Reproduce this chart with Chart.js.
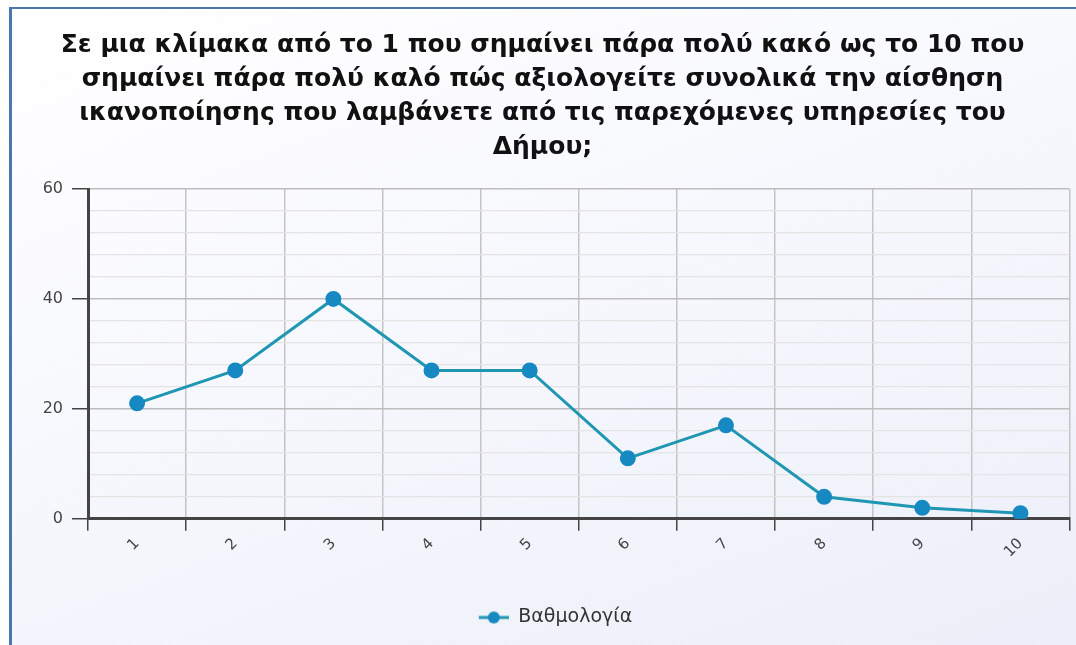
<!DOCTYPE html>
<html>
<head>
<meta charset="utf-8">
<script src="https://cdn.jsdelivr.net/npm/chart.js@4"></script>
<style>
  html, body { margin: 0; padding: 0; background: #fff; }
  #frame {
    position: absolute; left: 9px; top: 7px; width: 1067px; height: 638px;
    border-left: 3px solid #4a78ad; border-top: 2px solid #4a78ad;
    background: linear-gradient(160deg, #ffffff 0%, #f7f8fd 45%, #eceff9 100%);
  }
  #wrap { position: absolute; left: 0; top: 0; width: 1067px; height: 638px; }
</style>
</head>
<body>
<div id="frame"><div id="wrap"><canvas id="chart"></canvas></div></div>
<script>
// --- Dados ---
const titleLines = [
  'Σε μια κλίμακα από το 1 που σημαίνει πάρα πολύ κακό ως το 10 που',
  'σημαίνει πάρα πολύ καλό πώς αξιολογείτε συνολικά την αίσθηση',
  'ικανοποίησης που λαμβάνετε από τις παρεχόμενες υπηρεσίες του',
  'Δήμου;'
];
const categories = ['1', '2', '3', '4', '5', '6', '7', '8', '9', '10'];
const seriesName = 'Βαθμολογία';
const seriesValues = [21, 27, 40, 27, 27, 11, 17, 4, 2, 1];

const lineColor = '#1f97b2';
const pointColor = '#1689c2';

// marcador da legenda: linha com ponto (margem transparente à esquerda)
const markerWidth = 56;
function legendMarker() {
  const c = document.createElement('canvas');
  c.width = markerWidth; c.height = 14;
  const g = c.getContext('2d');
  g.strokeStyle = lineColor; g.lineWidth = 3;
  g.beginPath(); g.moveTo(26, 7); g.lineTo(56, 7); g.stroke();
  g.fillStyle = pointColor;
  g.beginPath(); g.arc(41, 7, 6, 0, Math.PI * 2); g.fill();
  return c;
}

const isMajor = ctx => ctx.tick && ctx.tick.value % 20 === 0;

Chart.defaults.font.family = 'DejaVu Sans';

new Chart(document.getElementById('chart'), {
  type: 'line',
  data: {
    labels: categories,
    datasets: [{
      label: seriesName,
      data: seriesValues,
      borderColor: lineColor,
      borderWidth: 3,
      pointBackgroundColor: pointColor,
      pointBorderColor: pointColor,
      pointRadius: 6.5,
      tension: 0,
      fill: false
    }]
  },
  options: {
    responsive: true,
    maintainAspectRatio: false,
    animation: false,
    layout: { padding: { left: 0, right: 6, top: 0, bottom: 10 } },
    plugins: {
      title: {
        display: true,
        text: titleLines,
        color: '#111',
        font: { size: 25, weight: 'bold', lineHeight: 1.35 },
        padding: { top: 20, bottom: 25 }
      },
      legend: {
        position: 'bottom',
        labels: {
          usePointStyle: true,
          pointStyle: legendMarker(),
          pointStyleWidth: markerWidth,
          color: '#333',
          font: { size: 19 },
          padding: 43
        }
      },
      tooltip: { enabled: false }
    },
    scales: {
      x: {
        offset: true,
        grid: {
          offset: true,
          color: '#c4c4c4',
          lineWidth: 1.5,
          tickColor: '#444',
          tickLength: 12
        },
        border: { color: '#444', width: 3 },
        ticks: {
          color: '#444',
          font: { size: 15 },
          minRotation: 45,
          maxRotation: 45,
          padding: 4
        }
      },
      y: {
        min: 0,
        max: 60,
        afterFit: scale => { scale.width = 76; },
        grid: {
          color: ctx => isMajor(ctx) ? '#bdbdbd' : '#e4e4e4',
          lineWidth: ctx => isMajor(ctx) ? 1.5 : 1.2,
          tickColor: ctx => isMajor(ctx) ? '#444' : 'rgba(0,0,0,0)',
          tickLength: 16
        },
        border: { color: '#444', width: 3 },
        ticks: {
          stepSize: 4,
          autoSkip: false,
          color: '#444',
          font: { size: 16 },
          padding: 9,
          callback: v => (v % 20 === 0 ? v : '')
        }
      }
    }
  }
});
</script>
</body>
</html>
